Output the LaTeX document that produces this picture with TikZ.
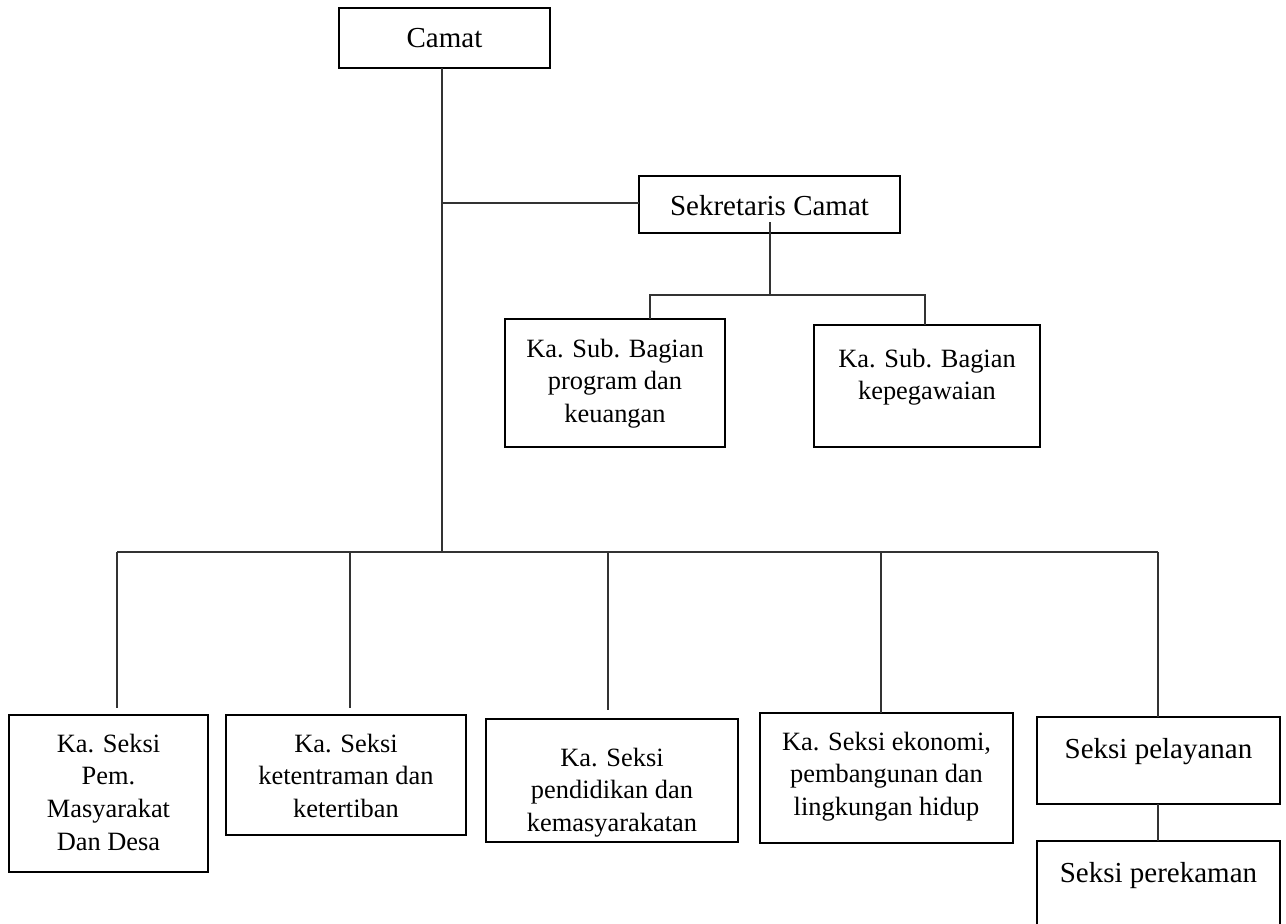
\documentclass[tikz,border=0pt]{standalone}
\usepackage{fontspec}
\setmainfont{Liberation Serif}
% one drawing unit = half a point
\newdimen\pxu \pxu=0.5pt
% box content: width, height, first baseline below the top edge, text
\newcommand{\orgcell}[4]{\parbox[c][#2\pxu][t]{#1\pxu}{\centering\rule{0pt}{#3\pxu}#4\par}}
\tikzset{
  orgbox/.style={draw=black, line width=1.25pt, inner sep=0pt, outer sep=0pt, anchor=north west},
  bigtext/.style={font=\fontsize{14.5pt}{17pt}\selectfont},
  smalltext/.style={font=\fontsize{13.2pt}{16.4pt}\selectfont},
  link/.style={draw=black!80, line width=0.65pt},
}
\begin{document}
\begin{tikzpicture}[x=0.5pt,y=-0.5pt]
\useasboundingbox (0,0) rectangle (1286,923);
\clip (0,0) rectangle (1286,923);

% boxes
\node[orgbox,bigtext] (camat) at (339,8) {\orgcell{211}{60}{39}{Camat}};
\node[orgbox,bigtext] (sekcam) at (639,176) {\orgcell{261}{57}{39}{Sekretaris Camat}};
\node[orgbox,smalltext] (subprog) at (505,319) {\orgcell{220}{128}{38}{Ka. Sub. Bagian\\program dan\\keuangan}};
\node[orgbox,smalltext] (subpeg) at (814,325) {\orgcell{226}{122}{42}{Ka. Sub. Bagian\\kepegawaian}};
\node[orgbox,smalltext] (pem) at (9,715) {\orgcell{199}{157}{37}{Ka. Seksi\\Pem.\\Masyarakat\\Dan Desa}};
\node[orgbox,smalltext] (tib) at (226,715) {\orgcell{240}{120}{37}{Ka. Seksi\\ketentraman dan\\ketertiban}};
\node[orgbox,smalltext] (didik) at (486,719) {\orgcell{252}{123}{47}{Ka. Seksi\\pendidikan dan\\kemasyarakatan}};
\node[orgbox,smalltext] (ekon) at (760,713) {\orgcell{253}{130}{37}{Ka. Seksi ekonomi,\\pembangunan dan\\lingkungan hidup}};
\node[orgbox,bigtext] (layan) at (1037,717) {\orgcell{243}{87}{41}{Seksi pelayanan}};
\node[orgbox,bigtext] (rekam) at (1037,841) {\orgcell{243}{120}{41}{Seksi perekaman}};

% junction points
\coordinate (trunk) at (442,552);
\coordinate (secjoin) at (442,203);
\coordinate (secstem) at (770,222);
\coordinate (barL) at (650,295);
\coordinate (barR) at (925,295);
\coordinate (t1) at (117,552);
\coordinate (t2) at (350,552);
\coordinate (t3) at (608,552);
\coordinate (t4) at (881,552);
\coordinate (t5) at (1158,552);

% main line and secretary branch
\draw[link] (camat.south -| trunk) -- (trunk);
\draw[link] (secjoin) -- (secjoin -| sekcam.west);
\draw[link] (secstem) -- (secstem |- barL);
\draw[link] (barL |- subprog.north) -- (barL) -- (barR) -- (barR |- subpeg.north);

% section heads
\draw[link] (t1) -- (t5);
\draw[link, shorten >=3.5pt] (t1) -- (t1 |- pem.north);
\draw[link, shorten >=3.5pt] (t2) -- (t2 |- tib.north);
\draw[link, shorten >=4.5pt] (t3) -- (t3 |- didik.north);
\draw[link] (t4) -- (t4 |- ekon.north);
\draw[link] (t5) -- (t5 |- layan.north);
\draw[link] (layan.south -| t5) -- (rekam.north -| t5);
\end{tikzpicture}
\end{document}
